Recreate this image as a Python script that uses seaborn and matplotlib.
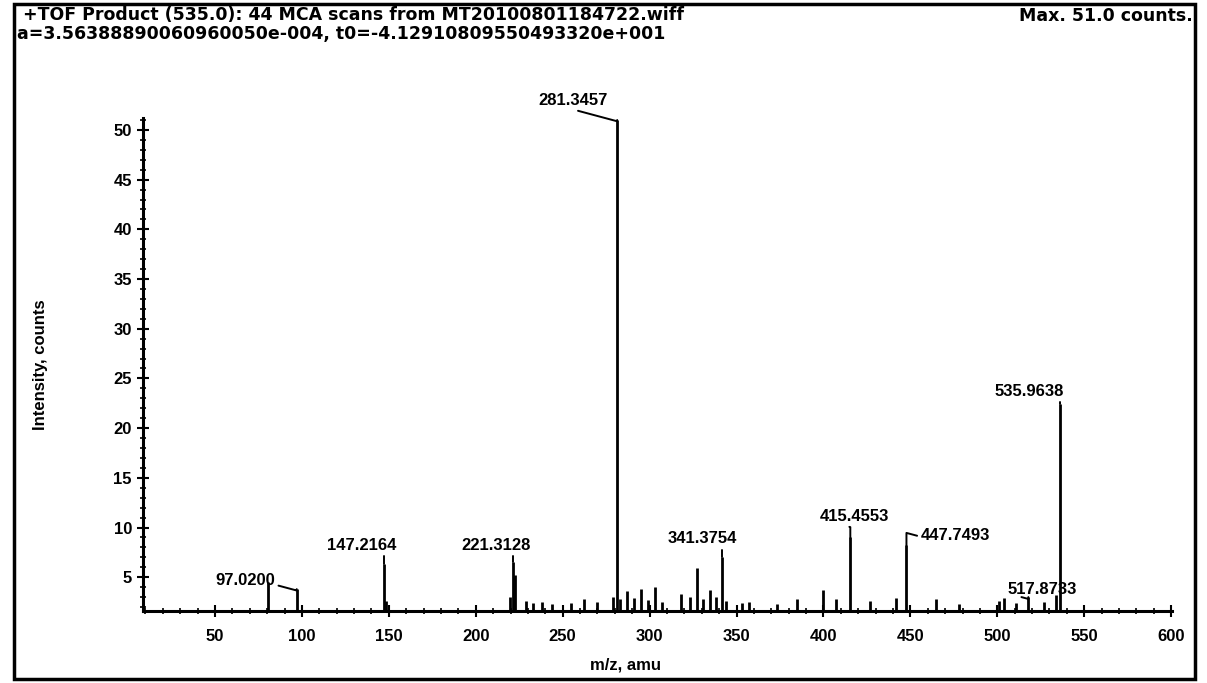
import matplotlib
matplotlib.use("Agg")
import matplotlib.pyplot as plt
import seaborn as sns
import numpy as np
from matplotlib.ticker import MultipleLocator
from matplotlib.patches import Rectangle

# --- spectrum data: m/z and intensity (counts) ---
labeled_mz = [97.0200, 147.2164, 221.3128, 281.3457, 341.3754,
              415.4553, 447.7493, 517.8733, 535.9638]
labeled_int = [3.8, 6.3, 6.5, 51.0, 7.0, 9.0, 8.2, 3.0, 22.4]
labeled_text = ["97.0200", "147.2164", "221.3128", "281.3457", "341.3754",
                "415.4553", "447.7493", "517.8733", "535.9638"]

minor_mz = [80.5, 148.5, 219.5, 222.5, 229, 233, 238, 244, 255, 262, 270, 279,
            283, 287, 291, 295, 299, 303, 307, 318, 323, 327, 331, 335, 338,
            344, 353, 357, 373, 385, 400, 407, 427, 442, 465, 478, 501, 504,
            511, 527, 533.9]
minor_int = [4.5, 2.6, 3.0, 5.2, 2.6, 2.4, 2.5, 2.3, 2.4, 2.8, 2.5, 3.0,
             2.8, 3.6, 2.9, 3.8, 2.7, 4.0, 2.5, 3.3, 3.0, 5.9, 2.8, 3.7, 3.0,
             2.6, 2.4, 2.5, 2.3, 2.8, 3.7, 2.8, 2.6, 2.9, 2.8, 2.3, 2.6, 2.9,
             2.4, 2.5, 3.2]

x_ticks = [50, 100, 150, 200, 250, 300, 350, 400, 450, 500, 550, 600]
y_ticks = [5, 10, 15, 20, 25, 30, 35, 40, 45, 50]

header_1 = "+TOF Product (535.0): 44 MCA scans from MT20100801184722.wiff"
header_2 = "a=3.56388890060960050e-004, t0=-4.12910809550493320e+001"
max_text = "Max. 51.0 counts."

sns.set_theme(style="white")
plt.rcParams["font.family"] = ["Liberation Sans", "DejaVu Sans"]
plt.rcParams["font.weight"] = "bold"
for key in ("text.color", "axes.labelcolor", "xtick.color", "ytick.color"):
    plt.rcParams[key] = "black"

fig = plt.figure(figsize=(12.07, 6.83), dpi=100)
ax = fig.add_axes([0.1185, 0.1054, 0.8525, 0.7218])

mz_all = np.array(minor_mz + labeled_mz)
int_all = np.array(minor_int + labeled_int)
y_floor = 1.6
ax.vlines(mz_all, y_floor, int_all, color="black", lw=2.0)

ax.set_xlim(8.6, 600.5)
ax.set_ylim(y_floor, 51.2)
sns.despine(ax=ax, top=True, right=True)
for side in ("left", "bottom"):
    ax.spines[side].set_color("black")
    ax.spines[side].set_linewidth(2.2)

ax.xaxis.set_major_locator(MultipleLocator(50))
ax.xaxis.set_minor_locator(MultipleLocator(10))
ax.yaxis.set_minor_locator(MultipleLocator(1))
ax.set_xticks(x_ticks)
ax.set_yticks(y_ticks)
ax.set_xticklabels([str(t) for t in x_ticks], fontsize=12, fontweight="bold")
ax.set_yticklabels([str(t) for t in y_ticks], fontsize=12, fontweight="bold")
ax.tick_params(axis="both", which="major", direction="inout", length=8,
               width=1.5, color="black", labelcolor="black", bottom=True, left=True)
ax.tick_params(axis="x", which="major", pad=9)
ax.tick_params(axis="y", which="major", pad=4)
ax.tick_params(axis="both", which="minor", direction="inout", length=4,
               width=1.2, color="black", bottom=True, left=True)
ax.grid(False)

ax.set_xlabel("m/z, amu", fontsize=12, fontweight="bold", color="black")
ax.xaxis.set_label_coords(0.469, -0.095)
ax.set_ylabel("Intensity, counts", fontsize=12, fontweight="bold", color="black")
ax.yaxis.set_label_coords(-0.092, 0.5)

# label offsets (points) and leader start on the text box
offsets = [(-37, 1), (-16, 8), (-12, 7), (-32, 9), (-14, 8),
           (3, 10), (35, 2), (10, 0), (-22, 4)]
relpos = [(1.0, 0.2), (0.7, 0.0), (0.7, 0.0), (0.4, 0.0), (0.7, 0.0),
          (0.25, 0.0), (0.0, 0.4), (0.2, 0.0), (0.8, 0.0)]
for mz, val, txt, off, rp in zip(labeled_mz, labeled_int, labeled_text,
                                 offsets, relpos):
    ax.annotate(txt, xy=(mz, val), xytext=off, textcoords="offset points",
                ha="center", va="bottom", fontsize=12, fontweight="bold",
                color="black", annotation_clip=False,
                arrowprops=dict(arrowstyle="-", color="black", lw=1.4,
                                shrinkA=0, shrinkB=0, relpos=rp,
                                connectionstyle="angle,angleA=-15,angleB=90,rad=0"))

# header lines
head_font = dict(family="DejaVu Sans", fontsize=12.5, fontweight="bold", color="black")
fig.text(0.019, 0.978, header_1, va="center", ha="left", **head_font)
fig.text(0.014, 0.950, header_2, va="center", ha="left", **head_font)
fig.text(0.988, 0.976, max_text, va="center", ha="right", **head_font)

# outer frame
fig.patches.append(Rectangle((0.012, 0.006), 0.978, 0.988, transform=fig.transFigure,
                             fill=False, edgecolor="black", lw=2.5))

fig.savefig("out.png", dpi=100, facecolor="white")
